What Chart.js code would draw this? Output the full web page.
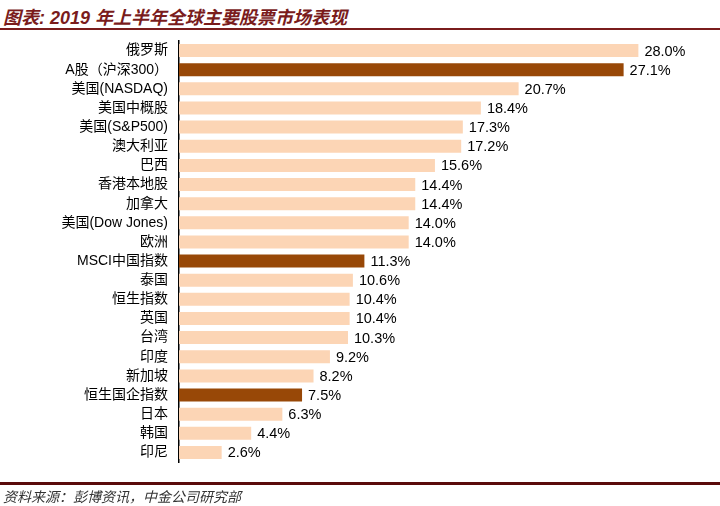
<!DOCTYPE html>
<html>
<head>
<meta charset="utf-8">
<script src="https://cdn.jsdelivr.net/npm/chart.js@4"></script>
<style>
  body { margin: 0; width: 720px; height: 506px; background: #fff; position: relative; overflow: hidden; }
  #title { position: absolute; left: 3px; top: 3px; font: italic 18px "Liberation Sans", "Noto Sans CJK SC", sans-serif; font-weight: 600; color: #7a1c1c; }
  #topLine { position: absolute; left: 0; top: 28px; width: 720px; height: 2px; background: #7a1c1c; }
  #footLine { position: absolute; left: 0; top: 482px; width: 720px; height: 3px; background: #5a0a0a; }
  #source { position: absolute; left: 3px; top: 486px; font: italic 14px "Noto Sans CJK SC", sans-serif; color: #333; }
  #wrap { position: absolute; left: 0; top: 0; width: 720px; height: 506px; }
</style>
</head>
<body>
<div id="title">图表: 2019 年上半年全球主要股票市场表现</div>
<div id="topLine"></div>
<div id="wrap"><canvas id="marketChart"></canvas></div>
<div id="footLine"></div>
<div id="source">资料来源：彭博资讯，中金公司研究部</div>
<script>
// Market returns, first half of 2019 (%)
const markets = ["俄罗斯", "A股（沪深300）", "美国(NASDAQ)", "美国中概股", "美国(S&P500)", "澳大利亚", "巴西", "香港本地股", "加拿大", "美国(Dow Jones)", "欧洲", "MSCI中国指数", "泰国", "恒生指数", "英国", "台湾", "印度", "新加坡", "恒生国企指数", "日本", "韩国", "印尼"];
const returns = [28.0, 27.1, 20.7, 18.4, 17.3, 17.2, 15.6, 14.4, 14.4, 14.0, 14.0, 11.3, 10.6, 10.4, 10.4, 10.3, 9.2, 8.2, 7.5, 6.3, 4.4, 2.6];
const highlighted = ["A股（沪深300）", "MSCI中国指数", "恒生国企指数"];

const barColors = markets.map(m => highlighted.includes(m) ? "#984807" : "#FCD5B5");

// value labels at bar ends
const valueLabels = {
  id: "valueLabels",
  afterDatasetsDraw(chart) {
    const ctx = chart.ctx;
    const meta = chart.getDatasetMeta(0);
    ctx.save();
    ctx.font = '14.5px "Liberation Sans", Arial, sans-serif';
    ctx.fillStyle = "#000";
    ctx.textBaseline = "middle";
    ctx.textAlign = "left";
    meta.data.forEach((bar, i) => {
      ctx.fillText(returns[i].toFixed(1) + "%", bar.x + 6, bar.y + 1);
    });
    ctx.restore();
  }
};

const ctxMarket = document.getElementById("marketChart").getContext("2d");
const marketChart = new Chart(ctxMarket, {
  type: "bar",
  data: {
    labels: markets,
    datasets: [
      {
        label: "涨幅",
        data: returns,
        backgroundColor: barColors,
        barPercentage: 0.68,
        categoryPercentage: 1.0,
      },
    ],
  },
  options: {
    indexAxis: "y",
    responsive: true,
    maintainAspectRatio: false,
    animation: false,
    layout: { padding: { top: 41, bottom: 44, left: 0, right: 16 } },
    plugins: {
      legend: { display: false },
      tooltip: { enabled: false },
    },
    scales: {
      x: {
        display: false,
        min: 0,
        max: 32,
      },
      y: {
        z: 1,
        afterFit(scale) { scale.width = 179; },
        grid: { display: false, drawTicks: false },
        border: { display: true, color: "#000", width: 1.5 },
        ticks: {
          color: "#000",
          padding: 11,
          autoSkip: false,
          font: { size: 14, family: '"Liberation Sans", "Noto Sans CJK SC", sans-serif' },
        },
      },
    },
  },
  plugins: [valueLabels],
});
</script>
</body>
</html>
